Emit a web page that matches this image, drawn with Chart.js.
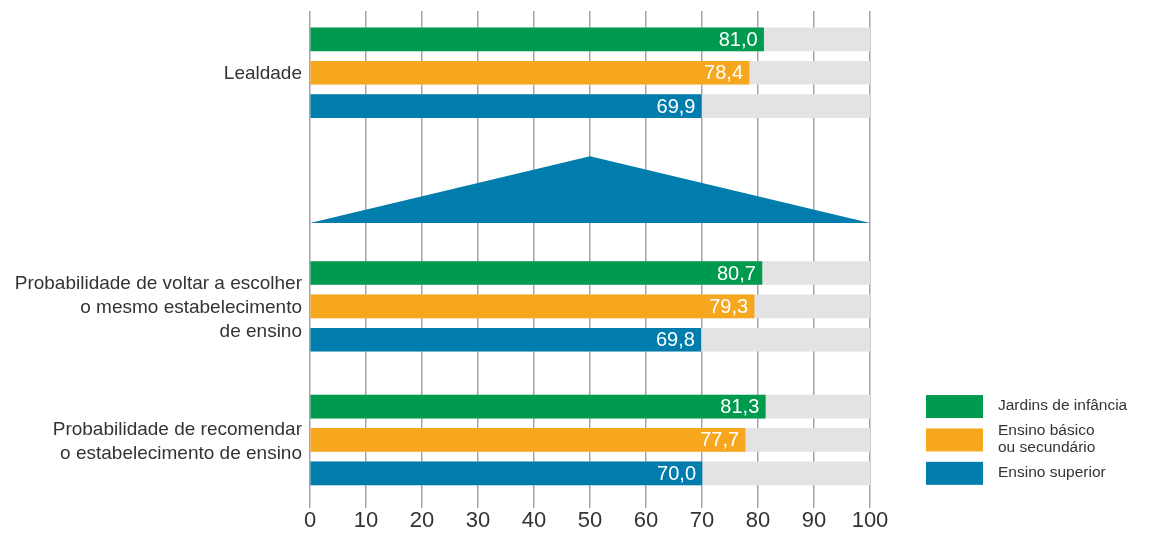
<!DOCTYPE html>
<html>
<head>
<meta charset="utf-8">
<script src="https://cdn.jsdelivr.net/npm/chart.js@4/dist/chart.umd.min.js"></script>
<style>
  html, body { margin:0; padding:0; background:#fff; }
  #wrap { width:1149px; height:534px; position:relative; }
</style>
</head>
<body>
<div id="wrap"><canvas id="chart"></canvas></div>
<script>
// categories (multi-line labels as arrays)
const categories = [
  ['Lealdade'],
  ['Probabilidade de voltar a escolher', 'o mesmo estabelecimento', 'de ensino'],
  ['Probabilidade de recomendar', 'o estabelecimento de ensino']
];
const seriesNames = [['Jardins de infância'], ['Ensino básico', 'ou secundário'], ['Ensino superior']];
const jardins  = [81.0, 80.7, 81.3];
const basico   = [78.4, 79.3, 77.7];
const superior = [69.9, 69.8, 70.0];
const fullScale = 100;
const xTicks = [0, 10, 20, 30, 40, 50, 60, 70, 80, 90, 100];

// layout: first row of each group on the y axis (one row per bar), plus the arrow shape
const groupRows = [0, 7, 11];
const arrowPts = [[0, 5.5], [50, 3.5], [100, 5.5]];
const colors = ['#009a4e', '#f6a71e', '#007dad'];
const TXT = '#333333';
const FONT = "'Liberation Sans', Arial, sans-serif";

const series = [jardins, basico, superior];
const mkData = (vals, k) => vals.map((v, g) => ({x: v, y: groupRows[g] + k}));

const datasets = series.map((vals, k) => ({
  label: seriesNames[k].join(' '),
  data: mkData(vals, k),
  backgroundColor: colors[k],
  grouped: false, barThickness: 23, order: 0
}));
const bgData = [];
groupRows.forEach(r => [0, 1, 2].forEach(k => bgData.push({x: fullScale, y: r + k})));
datasets.push({ label:'bg', data: bgData, backgroundColor:'#e3e3e3', grouped:false, barThickness:23, order:1 });

const arrowPlugin = {
  id:'arrow',
  beforeDatasetsDraw(chart){
    const {ctx, scales:{x, y}} = chart;
    ctx.save();
    ctx.fillStyle = colors[2];
    ctx.beginPath();
    arrowPts.forEach((p, i) => {
      const px = x.getPixelForValue(p[0]), py = y.getPixelForValue(p[1]);
      if (i === 0) ctx.moveTo(px, py); else ctx.lineTo(px, py);
    });
    ctx.closePath(); ctx.fill();
    ctx.restore();
  }
};

const valuePlugin = {
  id:'values',
  afterDatasetsDraw(chart){
    const ctx = chart.ctx;
    ctx.save();
    ctx.font = '20px ' + FONT;
    ctx.fillStyle = '#fff';
    ctx.textAlign = 'right'; ctx.textBaseline = 'middle';
    series.forEach((vals, k) => {
      const meta = chart.getDatasetMeta(k);
      meta.data.forEach((bar, i) => {
        ctx.fillText(vals[i].toFixed(1).replace('.', ','), bar.x - 6, bar.y + 1);
      });
    });
    ctx.restore();
  }
};

const legendPlugin = {
  id:'sideLegend',
  afterDraw(chart){
    const {ctx, chartArea, scales:{y}} = chart;
    const bx = chartArea.right + 56;
    ctx.save();
    ctx.font = '15.5px ' + FONT;
    ctx.textBaseline = 'middle'; ctx.textAlign = 'left';
    seriesNames.forEach((lines, k) => {
      const cy = y.getPixelForValue(groupRows[2] + k);
      ctx.fillStyle = colors[k];
      ctx.fillRect(bx, cy - 11.5, 57, 23);
      ctx.fillStyle = TXT;
      const lh = 17;
      lines.forEach((t, j) => {
        ctx.fillText(t, bx + 72, cy + (j - (lines.length - 1) / 2) * lh - 1);
      });
    });
    ctx.restore();
  }
};

new Chart(document.getElementById('chart'), {
  type:'bar',
  data:{ datasets },
  options:{
    indexAxis:'y',
    responsive:true, maintainAspectRatio:false,
    animation:false,
    layout:{ padding:{ top:11, right:279, left:0, bottom:0 } },
    plugins:{ legend:{display:false}, tooltip:{enabled:false} },
    scales:{
      x:{
        type:'linear', min:0, max:fullScale,
        afterBuildTicks: s => { s.ticks = xTicks.map(v => ({value:v})); },
        afterFit: s => { s.height = 44; s.paddingLeft = 0; s.paddingRight = 0; },
        border:{display:false},
        grid:{ color:'#a3a3a3', lineWidth:1.5, drawTicks:true, tickLength:18, tickColor:'#a3a3a3' },
        ticks:{ color:TXT, font:{family:FONT, size:22}, padding:0, autoSkip:false, maxRotation:0 }
      },
      y:{
        type:'linear', reverse:true, offset:false, min:-0.85, max:13.5,
        afterBuildTicks: s => { s.ticks = groupRows.map(r => ({value:r + 1})); },
        afterFit: s => { s.width = 310; s.paddingTop = 0; s.paddingBottom = 0; },
        border:{display:false},
        grid:{ display:false, drawTicks:false },
        ticks:{
          color:TXT, font:{family:FONT, size:19, lineHeight:'24px'}, padding:8, autoSkip:false,
          labelOffset:1.5,
          callback: (v, i) => categories[i]
        }
      }
    }
  },
  plugins:[arrowPlugin, valuePlugin, legendPlugin]
});
</script>
</body>
</html>
